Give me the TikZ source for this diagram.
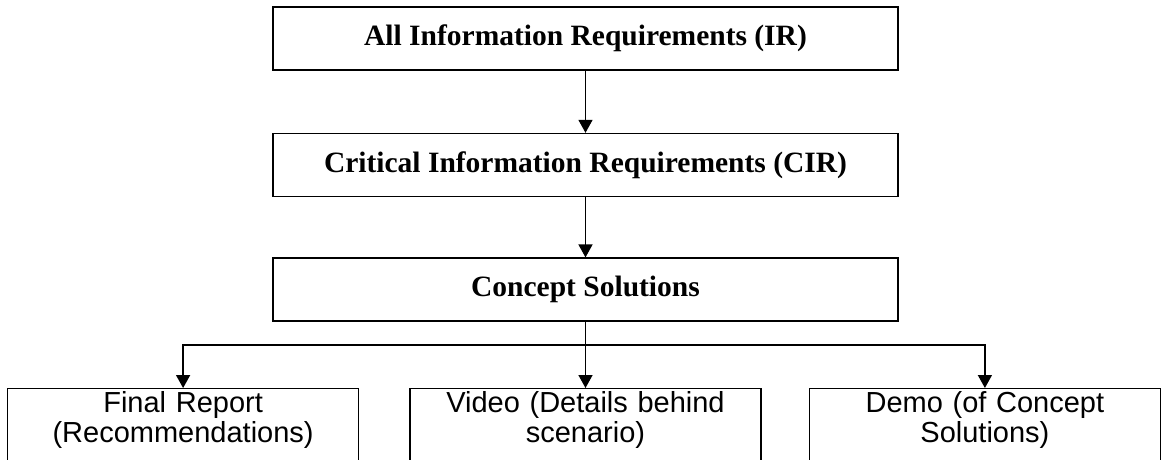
\documentclass[tikz,border=0pt]{standalone}
\usepackage{fontspec}
\setmainfont{Liberation Serif}
\newfontfamily\arialfont{Liberation Sans}
\usetikzlibrary{arrows.meta,positioning}

\begin{document}
\begin{tikzpicture}[x=1pt,y=-1pt,>={Triangle[length=13pt,width=14pt]},line width=1.6pt]

  \tikzstyle{level}=[rectangle,draw=black,minimum width=625pt,minimum height=63pt,font=\fontsize{29.5}{33}\selectfont\bfseries]
  \tikzstyle{output}=[rectangle,draw=black,line width=1.4pt,text width=345pt,align=center,inner sep=3pt,text depth=80pt,font=\arialfont\fontsize{29}{29.5}\selectfont]

  \clip (0,0) rectangle (1165,459);

  \node [level] (ir) at (585.5,38.5) {All Information Requirements (IR)};
  \node [level,below=62pt of ir] (cir) {Critical Information Requirements (CIR)};
  \node [level,below=60pt of cir] (cs) {Concept Solutions};

  \node [output,below=66pt of cs] (video) {Video (Details behind\\scenario)};
  \node [output,left=50pt of video] (report) {Final Report\\(Recommendations)};
  \node [output,right=47pt of video] (demo) {Demo (of Concept\\Solutions)};

  \path (cs.south) ++(0,23) coordinate (split);

  \draw [->] (ir) -- (cir);
  \draw [->] (cir) -- (cs);
  \draw [->] (cs) -- (video);
  \draw [->] (split) -| (report);
  \draw [->] (split) -| (demo);
\end{tikzpicture}
\end{document}
